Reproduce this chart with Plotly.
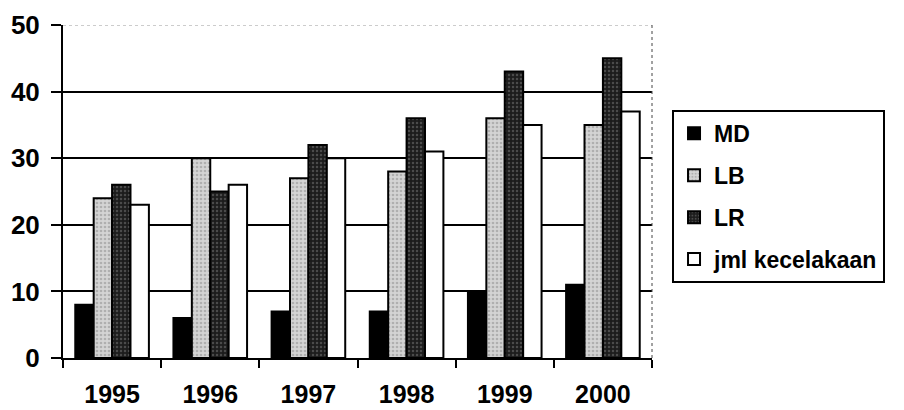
import plotly.graph_objects as go

years = ["1995", "1996", "1997", "1998", "1999", "2000"]
md = [8, 6, 7, 7, 10, 11]
lb = [24, 30, 27, 28, 36, 35]
lr = [26, 25, 32, 36, 43, 45]
jml = [23, 26, 30, 31, 35, 37]
y_ticks = [0, 10, 20, 30, 40, 50]

FONT = "Liberation Sans"

fig = go.Figure()
series = [
    ("MD", md, "#000000", None),
    ("LB", lb, "#d4d4d4", dict(shape=".", fgcolor="#8a8a8a", size=4, solidity=0.35)),
    ("LR", lr, "#1c1c1c", dict(shape=".", fgcolor="#7a7a7a", size=4, solidity=0.3)),
    ("jml kecelakaan", jml, "#ffffff", None),
]
for i, (name, vals, col, pat) in enumerate(series):
    marker = dict(color=col, line=dict(color="black", width=2))
    if pat:
        marker["pattern"] = pat
    fig.add_trace(go.Bar(x=years, y=vals, name=name, marker=marker,
                         legendgroup=f"g{i}"))

fig.update_layout(
    width=904, height=410,
    margin=dict(l=63, r=252, t=25, b=52, autoexpand=False),
    plot_bgcolor="white", paper_bgcolor="white",
    barmode="group", bargap=0.25, bargroupgap=0,
    showlegend=True,
    legend=dict(
        x=1.034, y=0.745, xanchor="left", yanchor="top",
        bordercolor="black", borderwidth=2,
        font=dict(family=FONT, size=23, color="black", weight="bold"),
        tracegroupgap=9, traceorder="grouped",
        itemwidth=30, entrywidth=250,
    ),
    shapes=[
        dict(type="line", xref="paper", yref="y", x0=0, x1=1, y0=50, y1=50,
             line=dict(color="#9a9a9a", width=1, dash="dot"), layer="above"),
        dict(type="line", xref="paper", yref="paper", x0=1, x1=1, y0=0, y1=1,
             line=dict(color="#444444", width=1, dash="dot"), layer="above"),
    ],
)
fig.update_xaxes(
    automargin=False,
    showline=True, linecolor="black", linewidth=2,
    ticks="outside", tickson="boundaries", ticklen=8, tickwidth=2, tickcolor="black",
    tickfont=dict(family=FONT, size=25, color="black", weight="bold"),
    ticklabelstandoff=13, showgrid=False,
)
fig.update_yaxes(
    automargin=False,
    range=[0, 50], tickvals=y_ticks,
    showline=True, linecolor="black", linewidth=2,
    ticks="outside", ticklen=10, tickwidth=2, tickcolor="black",
    tickfont=dict(family=FONT, size=26, color="black", weight="bold"),
    ticklabelstandoff=6,
    showgrid=True, gridcolor="black", gridwidth=2,
    zeroline=False,
)

fig.write_html("out.html")
